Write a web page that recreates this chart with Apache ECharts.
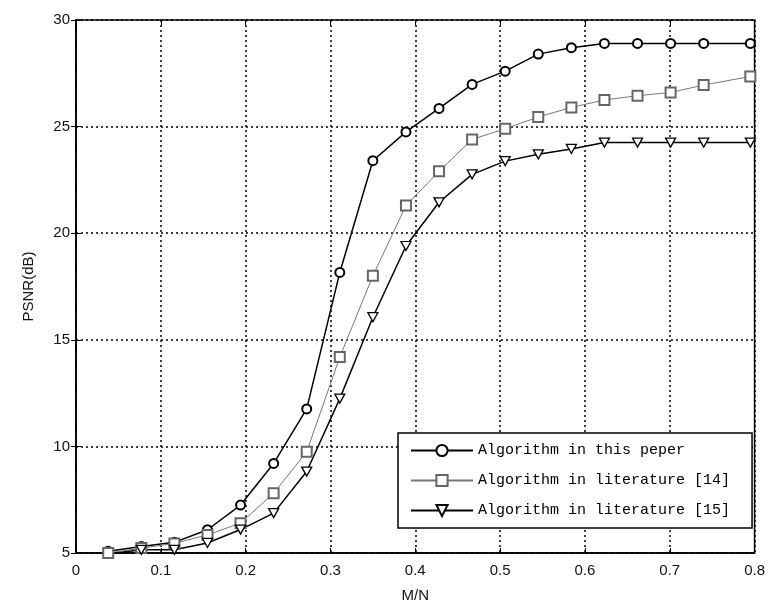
<html>
<head>
<meta charset="utf-8">
<title>PSNR vs M/N</title>
<script src="https://cdn.jsdelivr.net/npm/echarts@6/dist/echarts.min.js"></script>
<style>body{margin:0;background:#fff}</style>
</head>
<body>
<div id="main" style="width:768px;height:608px;"></div>
<script type="text/javascript">
// sampling ratios M/N
var ratios = [0.038, 0.077, 0.116, 0.155, 0.194, 0.233, 0.272, 0.311, 0.350, 0.389,
              0.428, 0.467, 0.506, 0.545, 0.584, 0.623, 0.662, 0.701, 0.740, 0.795];
var psnrOurs  = [5.08, 5.30, 5.50, 6.09, 7.25, 9.20, 11.76, 18.16, 23.40, 24.75,
                 25.85, 26.98, 27.60, 28.40, 28.70, 28.90, 28.90, 28.90, 28.90, 28.90];
var psnrLit14 = [5.00, 5.23, 5.45, 5.85, 6.40, 7.80, 9.75, 14.19, 18.00, 21.30,
                 22.90, 24.40, 24.90, 25.45, 25.90, 26.25, 26.45, 26.60, 26.95, 27.35];
var psnrLit15 = [4.95, 5.15, 5.15, 5.47, 6.10, 6.87, 8.82, 12.24, 16.06, 19.40,
                 21.45, 22.76, 23.38, 23.70, 23.95, 24.25, 24.25, 24.25, 24.25, 24.25];
var names = ['Algorithm in this peper', 'Algorithm in literature [14]', 'Algorithm in literature [15]'];

function pairs(ys){
    return ratios.map(function(x, i){ return [x, ys[i]]; });
}

var downTriangle = 'path://M0,0 L10,0 L5,9 Z';
var tickFont = {fontFamily: 'Liberation Sans, Arial, sans-serif', fontSize: 15, color: '#111'};
var gridLine = {show: true, lineStyle: {color: '#000', type: [2, 3], width: 1.5}};

var myChart = echarts.init(document.getElementById('main'));
myChart.setOption({
    animation: false,
    backgroundColor: '#fff',
    grid: {left: 76, right: 13, top: 20, bottom: 53, show: true, borderColor: '#000', borderWidth: 1.5},
    legend: {
        orient: 'vertical',
        left: 398, top: 433,
        padding: [10, 22, 10, 12],
        itemWidth: 62, itemHeight: 14, itemGap: 15,
        backgroundColor: '#fff',
        borderColor: '#000', borderWidth: 1.5,
        textStyle: {fontFamily: 'Liberation Mono, DejaVu Sans Mono, monospace', fontSize: 15, color: '#000'},
        data: names
    },
    xAxis: [{
        type: 'value', min: 0, max: 0.8, interval: 0.1,
        name: 'M/N', nameLocation: 'middle', nameGap: 35,
        nameTextStyle: tickFont,
        axisLine: {lineStyle: {color: '#000', width: 1.5}},
        axisTick: {inside: true, length: 5, lineStyle: {color: '#000'}},
        axisLabel: Object.assign({margin: 10}, tickFont),
        splitLine: gridLine
    }, {
        type: 'value', min: 0, max: 0.8, interval: 0.1, position: 'top',
        axisLine: {show: false},
        axisTick: {inside: true, length: 5, lineStyle: {color: '#000'}},
        axisLabel: {show: false}, splitLine: {show: false}
    }],
    yAxis: [{
        type: 'value', min: 5, max: 30, interval: 5,
        name: 'PSNR(dB)', nameLocation: 'middle', nameGap: 40, nameRotate: 90,
        nameTextStyle: tickFont,
        axisLine: {show: true, lineStyle: {color: '#000', width: 1.5}},
        axisTick: {show: true, inside: true, length: 5, lineStyle: {color: '#000'}},
        axisLabel: Object.assign({margin: 6}, tickFont),
        splitLine: gridLine
    }, {
        type: 'value', min: 5, max: 30, interval: 5, position: 'right',
        axisLine: {show: false},
        axisTick: {show: true, inside: true, length: 5, lineStyle: {color: '#000'}},
        axisLabel: {show: false}, splitLine: {show: false}
    }],
    series: [{
        name: names[0], type: 'line', data: pairs(psnrOurs),
        symbol: 'emptyCircle', symbolSize: 9,
        lineStyle: {color: '#000', width: 1.5},
        itemStyle: {color: '#000', borderWidth: 1.3}
    }, {
        name: names[1], type: 'line', data: pairs(psnrLit14),
        symbol: 'emptyRect', symbolSize: 10,
        lineStyle: {color: '#777', width: 1},
        itemStyle: {color: '#666', borderWidth: 1.2}
    }, {
        name: names[2], type: 'line', data: pairs(psnrLit15),
        symbol: downTriangle, symbolSize: [10, 9],
        lineStyle: {color: '#000', width: 1.5},
        itemStyle: {color: '#fff', borderColor: '#000', borderWidth: 1.3}
    }]
});
</script>
</body>
</html>
